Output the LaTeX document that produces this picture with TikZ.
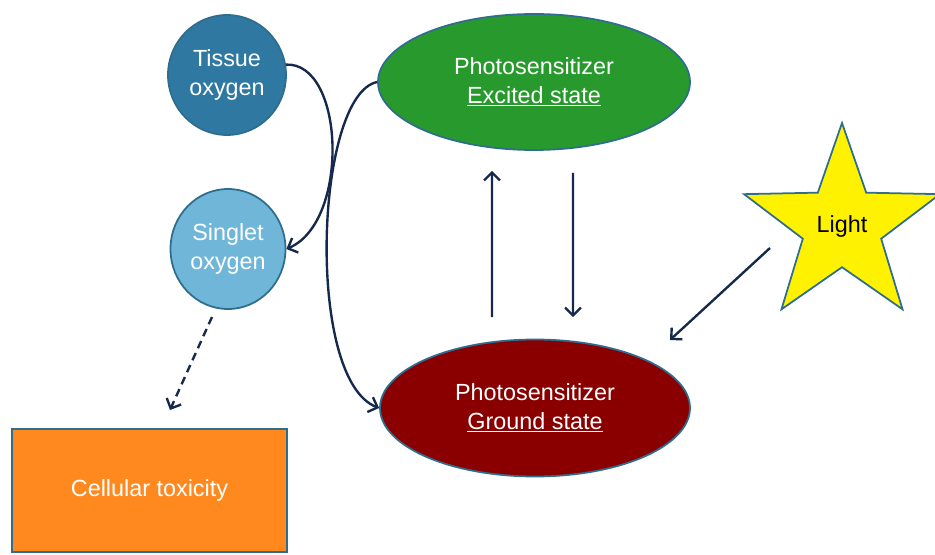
\documentclass[tikz,border=0pt]{standalone}
\usepackage{fontspec}
\setmainfont{Liberation Sans}
\usetikzlibrary{shapes.geometric,shapes.misc,arrows.meta}

\definecolor{rimblue}{HTML}{2F6D8E}
\definecolor{tissueblue}{HTML}{2E78A1}
\definecolor{singletblue}{HTML}{70B6D8}
\definecolor{excitedgreen}{HTML}{289A2D}
\definecolor{grounddred}{HTML}{8A0000}
\definecolor{toxorange}{HTML}{FF891F}
\definecolor{arrownavy}{HTML}{14294B}

\tikzset{
	blob/.style={draw=rimblue, line width=1pt, text=white, align=center,
		font=\fontsize{13.3}{16.4}\selectfont, inner sep=0pt},
	arr/.style={draw=arrownavy, line width=1.35pt, -{Straight Barb[length=4.5pt,width=9pt]}},
}

\begin{document}
\begin{tikzpicture}
		%%%%% START %%%%%
		\useasboundingbox (0, 0) rectangle (18.7, 11.08);
		
		\node[blob, ellipse, fill=tissueblue, minimum width=2.36cm, minimum height=2.4cm] (tissue) at (4.54, 9.58) {Tissue\\oxygen};
		\node[blob, ellipse, fill=singletblue, minimum width=2.3cm, minimum height=2.4cm] (singlet) at (4.56, 6.10) {Singlet\\oxygen};
		
		\node[blob, ellipse, fill=excitedgreen, minimum width=6.24cm, minimum height=2.72cm] (excited) at (10.68, 9.44) {Photosensitizer\\\underline{Excited state}};
		\node[blob, ellipse, fill=grounddred, minimum width=6.2cm, minimum height=2.74cm] (ground) at (10.70, 2.92) {Photosensitizer\\\underline{Ground state}};
		
		\node[blob, star, star points=5, star point ratio=2.5, minimum size=4.12cm, fill=yellow, text=black] (light) at (16.84, 6.56) {Light};
		
		\node[blob, rectangle, fill=toxorange, minimum width=5.5cm, minimum height=2.46cm] (toxicity) at (2.99, 1.27) {Cellular toxicity};
		
		\coordinate (lightout) at (15.40, 6.12);
		\coordinate (lightin) at (13.40, 4.28);
		\coordinate (singletout) at (4.24, 4.74);
		\coordinate (toxin) at (3.40, 2.88);
		
		% oxygen conversion and photosensitizer relaxation
		\draw[arr] (tissue.10) .. controls (6.90, 9.84) and (7.00, 6.64) .. (singlet.east);
		\draw[arr] (excited.west) .. controls (6.30, 9.18) and (6.10, 3.48) .. (ground.west);
		
		\draw[arr] ([shift={(-0.86, 0.43)}]ground.north) -- ([shift={(-0.84, -0.40)}]excited.south);
		\draw[arr] ([shift={(0.78, -0.44)}]excited.south) -- ([shift={(0.76, 0.43)}]ground.north);
		
		\draw[arr] (lightout) -- (lightin);
		\draw[arr, dash pattern=on 4.5pt off 3pt] (singletout) -- (toxin);
		
		%%%%% END %%%%%
	\end{tikzpicture}
\end{document}
